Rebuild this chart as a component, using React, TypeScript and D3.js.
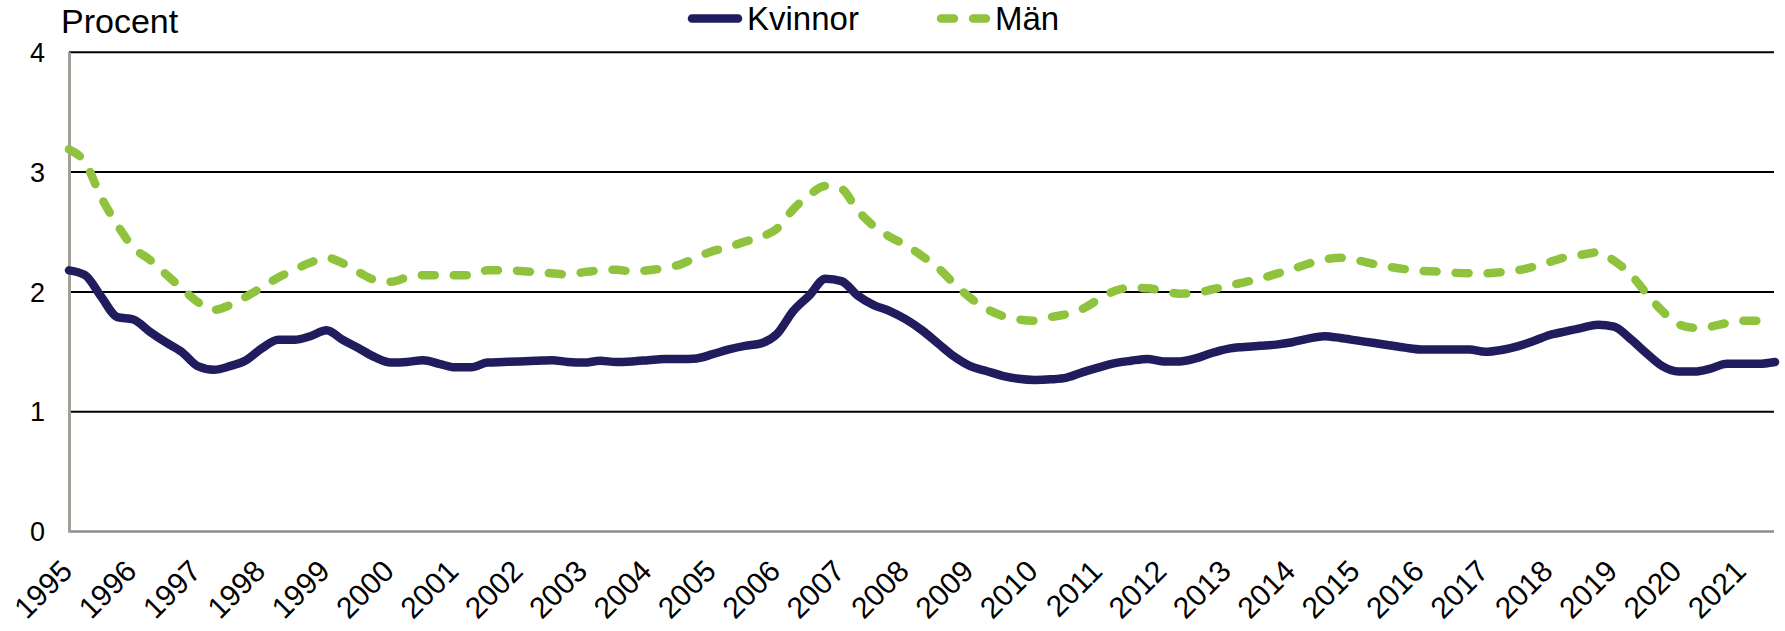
import React from "react";
import * as d3 from "d3";

const years = [
  "1995","1996","1997","1998","1999","2000","2001","2002","2003","2004",
  "2005","2006","2007","2008","2009","2010","2011","2012","2013","2014",
  "2015","2016","2017","2018","2019","2020","2021",
];

// quarterly observations, 1995 Q1 .. 2021 Q3
const quarters: string[] = years.flatMap((y) => ["K1", "K2", "K3", "K4"].map((q) => `${y}${q}`)).slice(0, 107);

const kvinnor = [
  2.18, 2.14, 1.96, 1.79, 1.77, 1.67, 1.58, 1.50, 1.38, 1.35,
  1.38, 1.43, 1.53, 1.60, 1.60, 1.63, 1.68, 1.60, 1.53, 1.455,
  1.41, 1.415, 1.43, 1.40, 1.37, 1.37, 1.41, 1.415, 1.42, 1.425,
  1.43, 1.415, 1.41, 1.425, 1.415, 1.42, 1.43, 1.44, 1.44, 1.445,
  1.48, 1.52, 1.55, 1.57, 1.65, 1.84, 1.97, 2.11, 2.09, 1.97,
  1.89, 1.84, 1.77, 1.68, 1.57, 1.46, 1.38, 1.34, 1.30, 1.275,
  1.265, 1.27, 1.285, 1.33, 1.37, 1.405, 1.425, 1.44, 1.42, 1.42,
  1.445, 1.49, 1.525, 1.54, 1.55, 1.56, 1.58, 1.61, 1.63, 1.615,
  1.595, 1.575, 1.555, 1.535, 1.52, 1.52, 1.52, 1.52, 1.50, 1.515,
  1.545, 1.59, 1.64, 1.67, 1.70, 1.725, 1.71, 1.61, 1.49, 1.38,
  1.335, 1.335, 1.36, 1.40, 1.40, 1.40, 1.415,
];

const man = [
  3.19, 3.08, 2.79, 2.56, 2.37, 2.27, 2.15, 2.03, 1.915, 1.85,
  1.89, 1.96, 2.04, 2.12, 2.185, 2.245, 2.285, 2.24, 2.165, 2.10,
  2.085, 2.12, 2.14, 2.14, 2.14, 2.14, 2.18, 2.18, 2.175, 2.165,
  2.155, 2.145, 2.165, 2.18, 2.185, 2.17, 2.18, 2.20, 2.23, 2.29,
  2.34, 2.375, 2.42, 2.46, 2.53, 2.69, 2.81, 2.885, 2.86, 2.68,
  2.55, 2.46, 2.39, 2.30, 2.20, 2.07, 1.95, 1.86, 1.80, 1.77,
  1.76, 1.79, 1.815, 1.86, 1.94, 2.01, 2.035, 2.03, 2.01, 1.985,
  1.99, 2.02, 2.05, 2.08, 2.11, 2.15, 2.19, 2.235, 2.27, 2.285,
  2.265, 2.235, 2.21, 2.19, 2.175, 2.17, 2.16, 2.155, 2.155, 2.165,
  2.18, 2.21, 2.25, 2.29, 2.31, 2.33, 2.26, 2.15, 1.99, 1.84,
  1.73, 1.70, 1.71, 1.74, 1.76, 1.76, 1.76,
];

const yTicks = [0, 1, 2, 3, 4];
const seriesNames = ["Kvinnor", "Män"];
const yTitle = "Procent";

const W = 1785;
const H = 631;
const left = 69;
const right = 1775;
const top = 52.3;
const bottom = 531.5;

const NAVY = "#211c5d";
const GREEN = "#8fc33d";
const FONT = "'Liberation Sans', Arial, sans-serif";

export default function App() {
  const x = d3.scaleLinear().domain([0, quarters.length - 1]).range([left, right]);
  const y = d3.scaleLinear().domain([0, 4]).range([bottom, top]);

  const line = d3
    .line<number>()
    .x((_, i) => x(i))
    .y((d) => y(d))
    .curve(d3.curveMonotoneX);

  const dash = "13 19";

  return (
    <div style={{ position: "absolute", left: 0, top: 0 }}>
      <svg width={W} height={H} style={{ display: "block", background: "#fff" }}>
        {yTicks.filter((t) => t > 0).map((t) => (
          <line key={t} x1={left} x2={1774} y1={y(t)} y2={y(t)} stroke="#000" strokeWidth={2} />
        ))}
        <line x1={left} x2={1774} y1={bottom} y2={bottom} stroke="#8e8e8e" strokeWidth={2.5} />
        <line x1={left + 0.5} x2={left + 0.5} y1={top} y2={bottom + 1} stroke="#a59f99" strokeWidth={3} />

        {yTicks.map((t) => (
          <text key={t} x={45} y={y(t)} dy="0.36em" textAnchor="end" fontFamily={FONT} fontSize={27} fill="#000">
            {t}
          </text>
        ))}
        <text x={61} y={33} fontFamily={FONT} fontSize={34} fill="#000">
          {yTitle}
        </text>

        {years.map((yr, k) => {
          const ax = x(k * 4) + 5;
          const ay = 573;
          return (
            <text
              key={yr}
              x={ax}
              y={ay}
              textAnchor="end"
              transform={`rotate(-45 ${ax} ${ay})`}
              fontFamily={FONT}
              fontSize={30}
              fill="#000"
            >
              {yr}
            </text>
          );
        })}

        <path d={line(man) || ""} fill="none" stroke={GREEN} strokeWidth={8.5} strokeDasharray={dash} strokeLinecap="round" strokeLinejoin="round" />
        <path d={line(kvinnor) || ""} fill="none" stroke={NAVY} strokeWidth={8.5} strokeLinecap="round" strokeLinejoin="round" />

        <line x1={692} x2={738} y1={18.5} y2={18.5} stroke={NAVY} strokeWidth={8.5} strokeLinecap="round" />
        <text x={747} y={30} fontFamily={FONT} fontSize={33} fill="#000">
          {seriesNames[0]}
        </text>
        <line x1={941} x2={988} y1={18.5} y2={18.5} stroke={GREEN} strokeWidth={8.5} strokeLinecap="round" strokeDasharray={dash} />
        <text x={995} y={30} fontFamily={FONT} fontSize={33} fill="#000">
          {seriesNames[1]}
        </text>
      </svg>
    </div>
  );
}
